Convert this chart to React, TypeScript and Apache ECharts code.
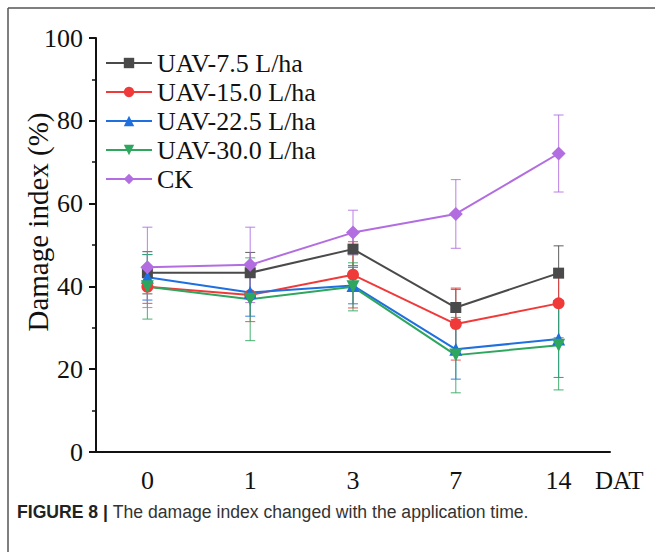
import React, { useEffect, useRef } from "react";
import * as echarts from "echarts";

const days = ["0", "1", "3", "7", "14"];
const seriesNames = ["UAV-7.5 L/ha", "UAV-15.0 L/ha", "UAV-22.5 L/ha", "UAV-30.0 L/ha", "CK"];
const uav75 = [43.3, 43.3, 49.0, 34.9, 43.2];
const uav75Sd = [5.1, 4.9, 4.0, 4.4, 6.6];
const uav150 = [39.9, 37.9, 42.8, 30.9, 35.9];
const uav150Sd = [4.0, 6.4, 8.0, 8.7, 8.3];
const uav225 = [42.2, 38.5, 40.2, 24.8, 27.3];
const uav225Sd = [5.5, 5.7, 4.4, 7.2, 9.3];
const uav300 = [39.9, 36.9, 39.9, 23.4, 25.8];
const uav300Sd = [7.8, 10.0, 5.8, 9.1, 10.8];
const ck = [44.6, 45.2, 53.0, 57.5, 72.1];
const ckSd = [9.7, 9.1, 5.4, 8.3, 9.3];
const yTicks = [0, 20, 40, 60, 80, 100];

const colors = ["#4a4a4a", "#f03a3a", "#1e6fe0", "#2ea65e", "#b26ee0"];
const symbols = ["rect", "circle", "triangle", "triangle", "diamond"];
const symbolRotates = [0, 0, 0, 180, 0];
const symbolSizes = [11, 12, 13, 13, 14];

const serif = "'Liberation Serif', 'Times New Roman', serif";
const sans = "'Liberation Sans', Arial, sans-serif";

export default function App() {
  const ref = useRef<HTMLDivElement>(null);
  useEffect(() => {
    if (!ref.current) return;
    const chart = echarts.init(ref.current, null, { renderer: "svg" });
    const means = [uav75, uav150, uav225, uav300, ck];
    const sds = [uav75Sd, uav150Sd, uav225Sd, uav300Sd, ckSd];

    const errSeries = means.map((m, si) => ({
      type: "custom",
      name: "err" + si,
      z: 1,
      silent: true,
      data: m.map((v, i) => [i, v - sds[si][i], v + sds[si][i]]),
      renderItem: (params: any, api: any) => {
        const x = api.value(0);
        const lo = api.coord([x, api.value(1)]);
        const hi = api.coord([x, api.value(2)]);
        const w = 5;
        const style = { stroke: colors[si], lineWidth: 1.1, opacity: 0.8 };
        return {
          type: "group",
          children: [
            { type: "line", shape: { x1: lo[0], y1: lo[1], x2: hi[0], y2: hi[1] }, style },
            { type: "line", shape: { x1: lo[0] - w, y1: lo[1], x2: lo[0] + w, y2: lo[1] }, style },
            { type: "line", shape: { x1: hi[0] - w, y1: hi[1], x2: hi[0] + w, y2: hi[1] }, style },
          ],
        };
      },
    }));

    const lineSeries = means.map((m, si) => ({
      type: "line",
      name: seriesNames[si],
      data: m,
      z: 3,
      symbol: symbols[si],
      symbolRotate: symbolRotates[si],
      symbolSize: symbolSizes[si],
      itemStyle: { color: colors[si] },
      lineStyle: { color: colors[si], width: 2 },
    }));

    chart.setOption({
      animation: false,
      backgroundColor: "#ffffff",
      grid: { left: 96, right: 45, top: 38, bottom: 100 },
      legend: {
        data: seriesNames,
        orient: "vertical",
        left: 100,
        top: 45,
        itemWidth: 46,
        itemHeight: 13,
        itemGap: 3,
        itemTextGap: 7,
        textStyle: { fontFamily: serif, fontSize: 26, color: "#111", lineHeight: 26 },
      },
      xAxis: {
        type: "category",
        data: days,
        boundaryGap: true,
        axisLine: { lineStyle: { color: "#111", width: 2 } },
        axisTick: { alignWithLabel: true, length: 7, lineStyle: { color: "#111", width: 2 } },
        axisLabel: { fontFamily: serif, fontSize: 26, color: "#111", margin: 15 },
      },
      yAxis: {
        type: "value",
        min: yTicks[0],
        max: yTicks[yTicks.length - 1],
        interval: 20,
        splitLine: { show: false },
        axisLine: { show: true, lineStyle: { color: "#111", width: 2 } },
        axisTick: { show: true, length: 7, lineStyle: { color: "#111", width: 2 } },
        minorTick: { show: true, splitNumber: 2, length: 4, lineStyle: { color: "#111", width: 1.5 } },
        axisLabel: { fontFamily: serif, fontSize: 26, color: "#111", margin: 13 },
      },
      graphic: [
        { type: "line", shape: { x1: 8, y1: 8, x2: 655, y2: 8 }, style: { stroke: "#555", lineWidth: 1.5 } },
        { type: "line", shape: { x1: 8, y1: 8, x2: 8, y2: 552 }, style: { stroke: "#555", lineWidth: 1.5 } },
        {
          type: "text",
          x: 38,
          y: 222,
          rotation: Math.PI / 2,
          style: {
            text: "Damage index (%)",
            font: "29px " + serif,
            fill: "#111",
            align: "center",
            verticalAlign: "middle",
          },
        },
        {
          type: "text",
          left: 595,
          top: 468,
          style: { text: "DAT", font: "25px " + serif, fill: "#111" },
        },
        {
          type: "text",
          left: 17,
          top: 503,
          style: {
            text: "{b|FIGURE 8 |} {n|The damage index changed with the application time.}",
            rich: {
              b: { fontFamily: sans, fontWeight: "bold", fontSize: 17.6, fill: "#222" },
              n: { fontFamily: sans, fontSize: 17.6, fill: "#333" },
            },
            font: "17.6px " + sans,
          },
        },
      ],
      series: [...errSeries, ...lineSeries],
    });
    return () => chart.dispose();
  }, []);
  return (
    <div
      ref={ref}
      style={{ position: "fixed", left: 0, top: 0, width: 655, height: 552, background: "#fff" }}
    />
  );
}
